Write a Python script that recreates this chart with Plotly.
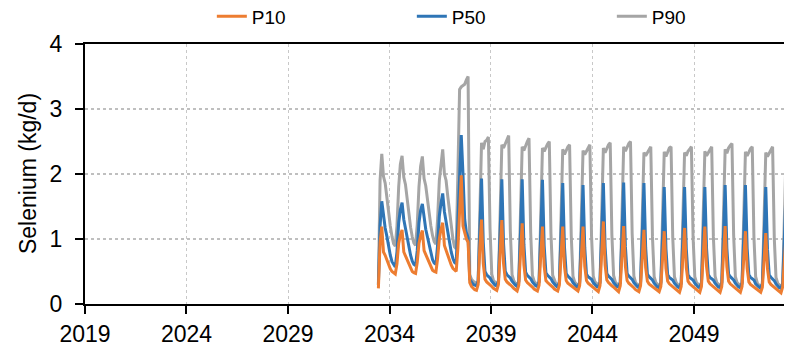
import pandas as pd
import plotly.graph_objects as go

# Monthly series, June 2033 .. December 2053 (mid-month values)
start_month = "2033-06-01"

p90 = [
    # 2033 (Jun-Dec)
    0.30, 1.90, 2.31, 1.96, 1.86, 1.60, 1.40,
    # 2034
    1.20, 1.04, 0.93, 0.89, 1.20, 1.80, 2.15, 2.28, 1.95, 1.84, 1.58, 1.38,
    # 2035
    1.18, 1.03, 0.94, 0.90, 1.22, 1.80, 2.12, 2.27, 1.93, 1.82, 1.60, 1.40,
    # 2036
    1.20, 1.05, 0.96, 0.92, 1.30, 1.90, 2.20, 2.38, 2.00, 1.90, 1.65, 1.42,
    # 2037
    1.20, 1.00, 0.88, 0.85, 2.00, 3.30, 3.34, 3.36, 3.38, 3.45, 3.50, 0.45,
    # 2038
    0.38, 0.35, 0.33, 0.32, 0.34, 1.45, 2.48, 2.38, 2.50, 2.52, 2.57, 1.15,
    # 2039
    0.46, 0.36, 0.33, 0.31, 0.34, 1.42, 2.45, 2.40, 2.47, 2.55, 2.59, 1.12,
    # 2040
    0.45, 0.36, 0.32, 0.31, 0.33, 1.40, 2.42, 2.36, 2.45, 2.50, 2.55, 1.10,
    # 2041
    0.44, 0.35, 0.32, 0.30, 0.33, 1.38, 2.40, 2.35, 2.42, 2.46, 2.50, 1.08,
    # 2042
    0.44, 0.35, 0.31, 0.30, 0.32, 1.36, 2.38, 2.30, 2.36, 2.42, 2.45, 1.05,
    # 2043
    0.43, 0.34, 0.31, 0.29, 0.32, 1.35, 2.36, 2.30, 2.35, 2.40, 2.45, 1.05,
    # 2044
    0.43, 0.34, 0.31, 0.29, 0.32, 1.37, 2.40, 2.33, 2.40, 2.45, 2.48, 1.07,
    # 2045
    0.44, 0.34, 0.31, 0.29, 0.32, 1.38, 2.42, 2.35, 2.42, 2.47, 2.50, 1.08,
    # 2046
    0.43, 0.33, 0.30, 0.28, 0.31, 1.34, 2.33, 2.28, 2.33, 2.38, 2.42, 1.04,
    # 2047
    0.42, 0.33, 0.30, 0.28, 0.31, 1.33, 2.34, 2.27, 2.34, 2.40, 2.42, 1.03,
    # 2048
    0.42, 0.33, 0.30, 0.28, 0.31, 1.33, 2.33, 2.28, 2.35, 2.38, 2.42, 1.03,
    # 2049
    0.42, 0.33, 0.30, 0.28, 0.31, 1.34, 2.35, 2.28, 2.33, 2.39, 2.42, 1.04,
    # 2050
    0.43, 0.33, 0.30, 0.28, 0.31, 1.36, 2.38, 2.32, 2.40, 2.44, 2.47, 1.06,
    # 2051
    0.42, 0.33, 0.30, 0.28, 0.31, 1.33, 2.34, 2.28, 2.34, 2.39, 2.42, 1.03,
    # 2052
    0.42, 0.32, 0.29, 0.27, 0.30, 1.32, 2.33, 2.27, 2.33, 2.38, 2.42, 1.02,
    # 2053
    0.41, 0.32, 0.29, 0.27, 0.30, 1.30, 2.32, 2.26, 2.32, 2.37, 2.40, 1.00,
]

p50 = [
    # 2033
    0.29, 1.20, 1.58, 1.32, 1.17, 1.04, 0.88,
    # 2034
    0.75, 0.65, 0.60, 0.57, 0.80, 1.25, 1.45, 1.56, 1.30, 1.15, 1.02, 0.87,
    # 2035
    0.75, 0.66, 0.61, 0.59, 0.82, 1.25, 1.44, 1.54, 1.30, 1.15, 1.03, 0.90,
    # 2036
    0.78, 0.68, 0.63, 0.61, 0.90, 1.35, 1.55, 1.70, 1.42, 1.25, 1.10, 0.95,
    # 2037
    0.80, 0.70, 0.64, 0.62, 1.20, 2.00, 2.60, 2.00, 1.30, 1.10, 1.02, 0.38,
    # 2038
    0.33, 0.30, 0.29, 0.28, 0.36, 1.15, 1.93, 0.95, 0.50, 0.45, 0.42, 0.40,
    # 2039
    0.35, 0.31, 0.29, 0.28, 0.36, 1.12, 1.92, 0.93, 0.50, 0.45, 0.42, 0.40,
    # 2040
    0.35, 0.31, 0.29, 0.27, 0.35, 1.10, 1.92, 0.92, 0.49, 0.44, 0.41, 0.39,
    # 2041
    0.34, 0.30, 0.28, 0.27, 0.35, 1.10, 1.91, 0.90, 0.48, 0.44, 0.41, 0.39,
    # 2042
    0.34, 0.30, 0.28, 0.26, 0.34, 1.08, 1.86, 0.88, 0.47, 0.43, 0.40, 0.38,
    # 2043
    0.33, 0.29, 0.27, 0.26, 0.34, 1.06, 1.83, 0.87, 0.46, 0.42, 0.40, 0.38,
    # 2044
    0.33, 0.29, 0.27, 0.26, 0.34, 1.08, 1.86, 0.88, 0.47, 0.43, 0.40, 0.38,
    # 2045
    0.33, 0.29, 0.27, 0.26, 0.34, 1.08, 1.87, 0.89, 0.47, 0.43, 0.40, 0.38,
    # 2046
    0.33, 0.29, 0.27, 0.25, 0.33, 1.07, 1.86, 0.87, 0.46, 0.42, 0.39, 0.37,
    # 2047
    0.32, 0.28, 0.26, 0.25, 0.33, 1.04, 1.80, 0.85, 0.45, 0.41, 0.39, 0.37,
    # 2048
    0.32, 0.28, 0.26, 0.25, 0.33, 1.04, 1.80, 0.85, 0.45, 0.41, 0.39, 0.37,
    # 2049
    0.32, 0.28, 0.26, 0.25, 0.33, 1.04, 1.80, 0.85, 0.45, 0.41, 0.39, 0.37,
    # 2050
    0.32, 0.28, 0.26, 0.25, 0.33, 1.06, 1.83, 0.86, 0.46, 0.42, 0.39, 0.37,
    # 2051
    0.32, 0.28, 0.26, 0.25, 0.33, 1.05, 1.83, 0.86, 0.45, 0.41, 0.39, 0.37,
    # 2052
    0.31, 0.28, 0.26, 0.24, 0.32, 1.03, 1.80, 0.84, 0.45, 0.41, 0.38, 0.36,
    # 2053
    0.31, 0.27, 0.25, 0.24, 0.32, 1.02, 1.78, 0.83, 0.44, 0.40, 0.38, 0.36,
]

p10 = [
    # 2033
    0.24, 0.95, 1.19, 0.80, 0.75, 0.68, 0.60,
    # 2034
    0.54, 0.50, 0.48, 0.46, 0.62, 0.93, 1.06, 1.14, 0.80, 0.74, 0.67, 0.60,
    # 2035
    0.54, 0.50, 0.48, 0.47, 0.64, 0.93, 1.05, 1.13, 0.82, 0.76, 0.69, 0.62,
    # 2036
    0.56, 0.52, 0.50, 0.49, 0.70, 1.00, 1.15, 1.25, 0.90, 0.82, 0.74, 0.66,
    # 2037
    0.60, 0.55, 0.52, 0.50, 0.85, 1.40, 1.98, 1.20, 1.07, 1.00, 0.95, 0.33,
    # 2038
    0.27, 0.24, 0.22, 0.21, 0.30, 0.88, 1.30, 0.62, 0.38, 0.34, 0.32, 0.30,
    # 2039
    0.27, 0.24, 0.22, 0.21, 0.30, 0.88, 1.29, 0.62, 0.38, 0.34, 0.32, 0.30,
    # 2040
    0.27, 0.24, 0.22, 0.20, 0.29, 0.85, 1.24, 0.60, 0.37, 0.33, 0.31, 0.29,
    # 2041
    0.26, 0.23, 0.21, 0.20, 0.29, 0.82, 1.19, 0.58, 0.36, 0.33, 0.31, 0.29,
    # 2042
    0.26, 0.23, 0.21, 0.20, 0.29, 0.82, 1.19, 0.58, 0.36, 0.32, 0.30, 0.28,
    # 2043
    0.26, 0.23, 0.21, 0.20, 0.28, 0.82, 1.19, 0.58, 0.36, 0.32, 0.30, 0.28,
    # 2044
    0.26, 0.23, 0.21, 0.19, 0.28, 0.86, 1.27, 0.60, 0.37, 0.33, 0.30, 0.28,
    # 2045
    0.26, 0.23, 0.21, 0.19, 0.28, 0.83, 1.20, 0.58, 0.36, 0.32, 0.30, 0.28,
    # 2046
    0.25, 0.22, 0.20, 0.19, 0.28, 0.79, 1.14, 0.56, 0.35, 0.31, 0.29, 0.27,
    # 2047
    0.25, 0.22, 0.20, 0.19, 0.27, 0.78, 1.12, 0.55, 0.35, 0.31, 0.29, 0.27,
    # 2048
    0.25, 0.22, 0.20, 0.18, 0.27, 0.80, 1.17, 0.56, 0.35, 0.31, 0.29, 0.27,
    # 2049
    0.25, 0.22, 0.20, 0.18, 0.27, 0.82, 1.19, 0.57, 0.35, 0.31, 0.29, 0.27,
    # 2050
    0.25, 0.22, 0.20, 0.18, 0.27, 0.82, 1.20, 0.57, 0.35, 0.31, 0.29, 0.27,
    # 2051
    0.25, 0.22, 0.20, 0.18, 0.27, 0.78, 1.12, 0.55, 0.34, 0.30, 0.28, 0.26,
    # 2052
    0.24, 0.21, 0.19, 0.18, 0.26, 0.76, 1.09, 0.54, 0.34, 0.30, 0.28, 0.26,
    # 2053
    0.24, 0.21, 0.19, 0.17, 0.26, 0.74, 1.05, 0.53, 0.33, 0.30, 0.28, 0.26,
]

series_names = ["P10", "P50", "P90"]
series_colors = ["#ED7D31", "#2E75B6", "#A5A5A5"]
y_title = "Selenium (kg/d)"
x_range = ["2019-01-01", "2053-10-30"]
x_tick0 = "2019-01-01"
y_range = [0, 4]

dates = pd.date_range(start_month, periods=len(p90), freq="MS") + pd.Timedelta(days=14)

FONT = "Liberation Sans, Arial, sans-serif"

fig = go.Figure()
for name, vals, col in zip(series_names, [p10, p50, p90], series_colors):
    fig.add_trace(go.Scatter(x=dates, y=vals, mode="lines", name=name,
                             line=dict(color=col, width=3)))
# draw order: P90 behind, P10 on top
fig.data = tuple(reversed(fig.data))

# the page body adds an 8px offset, so the figure is 8px smaller than the window
fig.update_layout(
    width=784, height=339,
    margin=dict(l=77, r=0, t=36, b=43, autoexpand=False),
    paper_bgcolor="white", plot_bgcolor="white",
    font=dict(family=FONT, color="#000000", size=23),
    showlegend=True,
    legend=dict(orientation="h", traceorder="reversed",
                x=0.260, xanchor="left", xref="container",
                y=1.179, yanchor="top", yref="paper",
                font=dict(size=19, family=FONT),
                entrywidth=155, entrywidthmode="pixels",
                bgcolor="rgba(0,0,0,0)"),
    xaxis=dict(type="date", range=x_range, tick0=x_tick0, dtick="M60",
               tickformat="%Y", ticks="outside", ticklen=8, tickwidth=2,
               tickcolor="black", showline=True, linecolor="black", linewidth=2,
               mirror=True, showgrid=True, gridcolor="#C8C8C8",
               griddash="dot", gridwidth=1, zeroline=False, automargin=False,
               ticklabelstandoff=0, tickfont=dict(size=23)),
    yaxis=dict(range=y_range, dtick=1, ticks="outside", ticklen=8,
               tickwidth=2, tickcolor="black", showline=True,
               linecolor="black", linewidth=2, showgrid=True,
               gridcolor="#BFBFBF", griddash="dot", gridwidth=1.5,
               zeroline=False, ticklabelstandoff=8, automargin=False,
               tickfont=dict(size=23)),
    annotations=[dict(text=y_title, xref="paper", yref="paper",
                      x=-0.0806, y=0.5, xanchor="center", yanchor="middle",
                      textangle=-90, showarrow=False,
                      font=dict(size=23, family=FONT, color="#000000"))],
)

fig.write_html("out.html")
